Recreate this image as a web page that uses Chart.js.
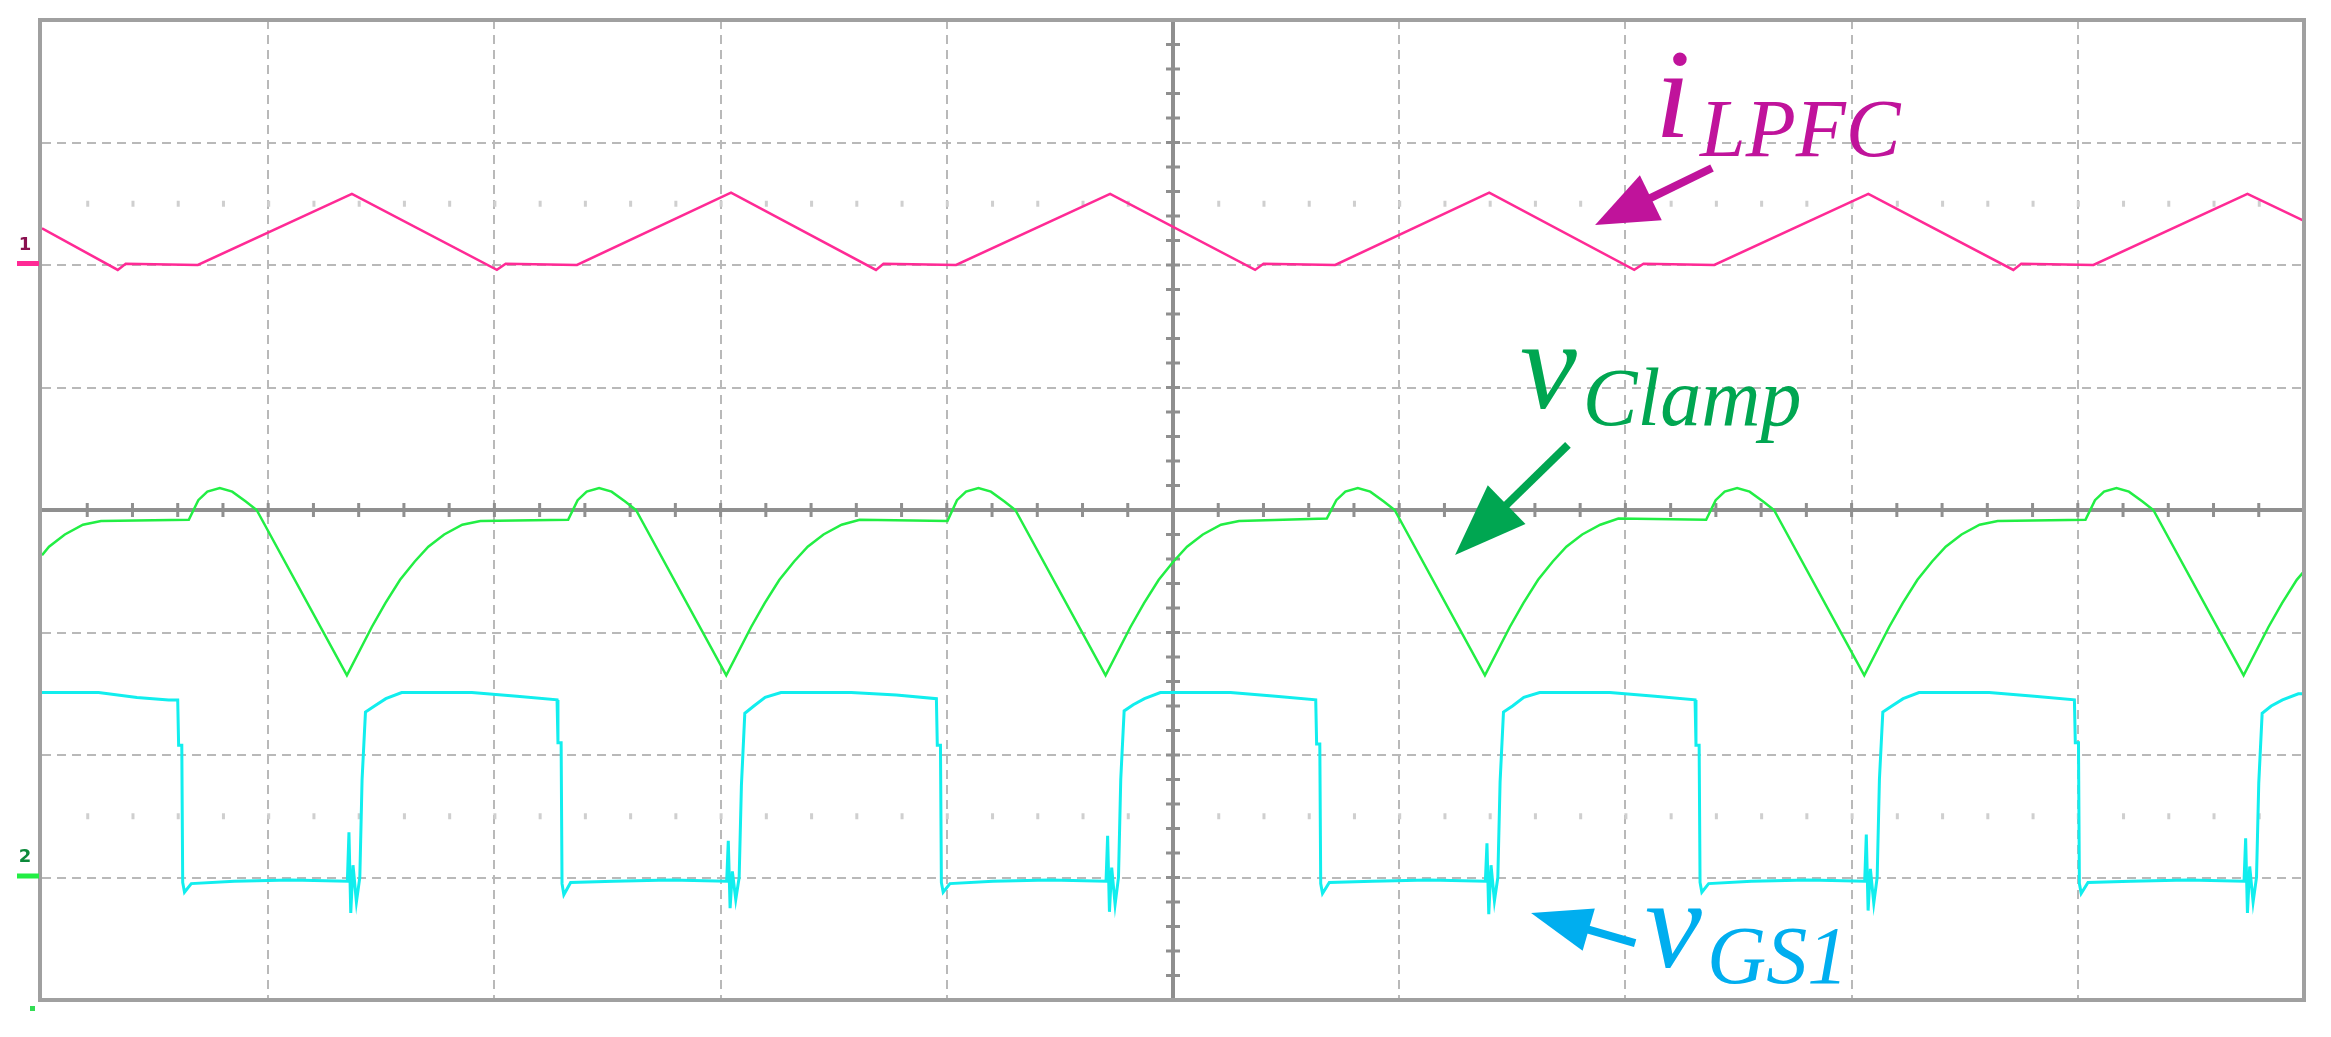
<!DOCTYPE html>
<html lang="en">
<head>
<meta charset="UTF-8" />
<title>Oscilloscope waveforms</title>
<script src="https://cdn.jsdelivr.net/npm/chart.js"></script>
<style>
  body { margin: 0; background: #ffffff; }
  .wrap { width: 2331px; height: 1037px; position: relative; }
</style>
</head>
<body>
<div class="wrap"><canvas id="scope"></canvas></div>
<script>
// time in screen divisions (0..10), amplitude in divisions (-4..4)
const iLpfcT = [0, 0.335, 0.37, 0.689, 1.370, 2.011, 2.05, 2.365, 3.046, 3.687, 3.72, 4.041, 4.722,
  5.363, 5.40, 5.717, 6.398, 7.039, 7.08, 7.393, 8.074, 8.715, 8.75, 9.069, 9.750, 10];
const iLpfcV = [2.30, 1.96, 2.01, 2.00, 2.58, 1.96, 2.01, 2.00, 2.59, 1.96, 2.01, 2.00, 2.58,
  1.96, 2.01, 2.00, 2.59, 1.96, 2.01, 2.00, 2.58, 1.96, 2.01, 2.00, 2.58, 2.36];

const vClampT = [0, 0.031, 0.101, 0.181, 0.261, 0.649, 0.691, 0.731, 0.786, 0.841, 0.901, 0.949,
  1.348, 1.458, 1.518, 1.583, 1.648, 1.708, 1.778, 1.858, 1.938, 2.326, 2.368, 2.408, 2.463, 2.518, 2.578, 2.626,
  3.025, 3.135, 3.195, 3.260, 3.325, 3.385, 3.455, 3.535, 3.615, 4.003, 4.045, 4.085, 4.140, 4.195, 4.255, 4.303,
  4.702, 4.812, 4.872, 4.937, 5.002, 5.062, 5.132, 5.212, 5.292, 5.680, 5.722, 5.762, 5.817, 5.872, 5.932, 5.980,
  6.379, 6.489, 6.549, 6.614, 6.679, 6.739, 6.809, 6.889, 6.969, 7.357, 7.399, 7.439, 7.494, 7.549, 7.609, 7.657,
  8.056, 8.166, 8.226, 8.291, 8.356, 8.416, 8.486, 8.566, 8.646, 9.034, 9.076, 9.116, 9.171, 9.226, 9.286, 9.334,
  9.733, 9.843, 9.903, 9.968, 10];
const vClampV = [-0.37, -0.30, -0.20, -0.12, -0.09, -0.08, 0.08, 0.15, 0.18, 0.15, 0.07, 0,
  -1.35, -0.955, -0.76, -0.57, -0.42, -0.30, -0.20, -0.12, -0.09, -0.08, 0.08, 0.15, 0.18, 0.15, 0.07, 0,
  -1.35, -0.955, -0.76, -0.57, -0.42, -0.30, -0.20, -0.12, -0.08, -0.09, 0.08, 0.15, 0.18, 0.15, 0.07, 0,
  -1.35, -0.955, -0.76, -0.57, -0.42, -0.30, -0.20, -0.12, -0.09, -0.07, 0.08, 0.15, 0.18, 0.15, 0.07, 0,
  -1.35, -0.955, -0.76, -0.57, -0.42, -0.30, -0.20, -0.12, -0.07, -0.08, 0.08, 0.15, 0.18, 0.15, 0.07, 0,
  -1.35, -0.955, -0.76, -0.57, -0.42, -0.30, -0.20, -0.12, -0.09, -0.08, 0.08, 0.15, 0.18, 0.15, 0.07, 0,
  -1.35, -0.955, -0.76, -0.57, -0.50];

const vGs1T = [0, 0.25, 0.42, 0.56,
  0.600, 0.604, 0.618, 0.622, 0.630, 0.660, 0.850, 1.100, 1.350, 1.357, 1.365, 1.375, 1.390, 1.405, 1.415, 1.430, 1.470, 1.520, 1.590, 1.900, 2.100,
  2.277, 2.281, 2.295, 2.299, 2.307, 2.337, 2.527, 2.777, 3.027, 3.034, 3.042, 3.052, 3.067, 3.082, 3.092, 3.107, 3.147, 3.197, 3.267, 3.577, 3.777,
  3.954, 3.958, 3.972, 3.976, 3.984, 4.014, 4.204, 4.454, 4.704, 4.711, 4.719, 4.729, 4.744, 4.759, 4.769, 4.784, 4.824, 4.874, 4.944, 5.254, 5.454,
  5.631, 5.635, 5.649, 5.653, 5.661, 5.691, 5.881, 6.131, 6.381, 6.388, 6.396, 6.406, 6.421, 6.436, 6.446, 6.461, 6.501, 6.551, 6.621, 6.931, 7.131,
  7.308, 7.312, 7.326, 7.330, 7.338, 7.368, 7.558, 7.808, 8.058, 8.065, 8.073, 8.083, 8.098, 8.113, 8.123, 8.138, 8.178, 8.228, 8.298, 8.608, 8.808,
  8.985, 8.989, 9.003, 9.007, 9.015, 9.045, 9.235, 9.485, 9.735, 9.742, 9.750, 9.760, 9.775, 9.790, 9.800, 9.815, 9.855, 9.905, 9.975, 10];
const vGs1V = [-1.49, -1.49, -1.53, -1.55,
  -1.55, -1.92, -1.92, -3.04, -3.12, -3.05, -3.03, -3.02, -3.03, -2.63, -3.29, -2.90, -3.20, -3.00, -2.20, -1.65, -1.60, -1.54, -1.49, -1.49, -1.52,
  -1.55, -1.90, -1.90, -3.05, -3.14, -3.04, -3.03, -3.02, -3.03, -2.70, -3.25, -2.95, -3.18, -3.00, -2.25, -1.66, -1.60, -1.53, -1.49, -1.49, -1.51,
  -1.54, -1.92, -1.92, -3.04, -3.12, -3.05, -3.03, -3.02, -3.03, -2.66, -3.28, -2.92, -3.22, -3.00, -2.20, -1.64, -1.59, -1.54, -1.49, -1.49, -1.52,
  -1.55, -1.91, -1.91, -3.05, -3.13, -3.04, -3.03, -3.02, -3.03, -2.72, -3.30, -2.90, -3.19, -3.00, -2.22, -1.65, -1.60, -1.53, -1.49, -1.49, -1.52,
  -1.55, -1.92, -1.92, -3.04, -3.12, -3.05, -3.03, -3.02, -3.03, -2.65, -3.27, -2.93, -3.21, -3.00, -2.20, -1.65, -1.60, -1.54, -1.49, -1.49, -1.52,
  -1.55, -1.90, -1.90, -3.05, -3.13, -3.04, -3.03, -3.02, -3.03, -2.68, -3.29, -2.91, -3.20, -3.00, -2.23, -1.66, -1.60, -1.55, -1.50, -1.50];

const channelZero = [2.0, -3.0];     // ground markers for CH1 / CH2
const dotRowLevels = [2.5, -2.5];

const toPoints = (t, v) => t.map((tt, i) => ({ x: tt, y: v[i] }));

// annotation text + arrows, placed in division coordinates
const notes = [
  { main: 'i', sub: 'LPFC', color: '#c0139b', at: [7.131, 3.045], subAt: [7.33, 2.89],
    tail: [7.383, 2.792], tip: [6.866, 2.327], head: 62, half: 25 },
  { main: 'v', sub: 'Clamp', color: '#00a651', at: [6.534, 0.833], subAt: [6.812, 0.694],
    tail: [6.746, 0.531], tip: [6.247, -0.367], head: 72, half: 27 },
  { main: 'v', sub: 'GS1', color: '#00aeef', at: [7.087, -3.731], subAt: [7.361, -3.861],
    tail: [7.043, -3.535], tip: [6.583, -3.29], head: 60, half: 22 }
];

const scopeDecor = {
  id: 'scopeDecor',
  beforeDatasetsDraw(chart) {
    const { ctx, chartArea: a, scales: { x, y } } = chart;
    ctx.save();
    // faint minor-tick rows
    ctx.fillStyle = '#cfcfcf';
    dotRowLevels.forEach(lv => {
      const py = y.getPixelForValue(lv);
      for (let i = 1; i < 50; i++) {
        ctx.fillRect(x.getPixelForValue(i * 0.2) - 1, py - 3, 3, 6);
      }
    });
    // centre cross with ticks
    const x0 = x.getPixelForValue(5), y0 = y.getPixelForValue(0);
    ctx.strokeStyle = '#8f8f8f';
    ctx.lineWidth = 4;
    ctx.beginPath();
    ctx.moveTo(a.left, y0); ctx.lineTo(a.right, y0);
    ctx.moveTo(x0, a.top); ctx.lineTo(x0, a.bottom);
    ctx.stroke();
    ctx.lineWidth = 3;
    ctx.beginPath();
    for (let i = 1; i < 50; i++) {
      const px = x.getPixelForValue(i * 0.2);
      ctx.moveTo(px, y0 - 7); ctx.lineTo(px, y0 + 7);
    }
    for (let i = 1; i < 40; i++) {
      const py = y.getPixelForValue(-4 + i * 0.2);
      ctx.moveTo(x0 - 7, py); ctx.lineTo(x0 + 7, py);
    }
    ctx.stroke();
    ctx.restore();
  },
  afterDatasetsDraw(chart) {
    const { ctx, chartArea: a, scales: { x, y } } = chart;
    ctx.save();
    ctx.strokeStyle = '#a0a0a0';
    ctx.lineWidth = 4;
    ctx.strokeRect(a.left - 2, a.top, a.right - a.left + 2, a.bottom - a.top);

    // channel ground markers
    const mk = [['#ff2a95', '#8a1050', '1'], ['#22ee44', '#0c8a3a', '2']];
    channelZero.forEach((lv, i) => {
      const py = y.getPixelForValue(lv);
      ctx.fillStyle = mk[i][0];
      ctx.fillRect(a.left - 25, py - 4, 22, 5);
      ctx.fillStyle = mk[i][1];
      ctx.font = 'bold 18px "DejaVu Sans"';
      ctx.textAlign = 'center';
      ctx.textBaseline = 'middle';
      ctx.fillText(mk[i][2], a.left - 17, py - 20);
    });
    ctx.fillStyle = '#33dd55';
    ctx.fillRect(a.left - 12, a.bottom + 6, 5, 5);

    notes.forEach(n => {
      ctx.fillStyle = n.color;
      ctx.strokeStyle = n.color;
      ctx.textAlign = 'left';
      ctx.textBaseline = 'alphabetic';
      ctx.font = 'italic 128px "Liberation Serif"';
      ctx.fillText(n.main, x.getPixelForValue(n.at[0]), y.getPixelForValue(n.at[1]));
      ctx.font = 'italic 82px "Liberation Serif"';
      ctx.fillText(n.sub, x.getPixelForValue(n.subAt[0]), y.getPixelForValue(n.subAt[1]));

      const tx = x.getPixelForValue(n.tail[0]), ty = y.getPixelForValue(n.tail[1]);
      const hx = x.getPixelForValue(n.tip[0]), hy = y.getPixelForValue(n.tip[1]);
      const ang = Math.atan2(hy - ty, hx - tx);
      const bx = hx - n.head * Math.cos(ang), by = hy - n.head * Math.sin(ang);
      ctx.lineWidth = 8;
      ctx.lineCap = 'butt';
      ctx.beginPath();
      ctx.moveTo(tx, ty); ctx.lineTo(bx + 4 * Math.cos(ang), by + 4 * Math.sin(ang));
      ctx.stroke();
      ctx.beginPath();
      ctx.moveTo(hx, hy);
      ctx.lineTo(bx - n.half * Math.sin(ang), by + n.half * Math.cos(ang));
      ctx.lineTo(bx + n.half * Math.sin(ang), by - n.half * Math.cos(ang));
      ctx.closePath();
      ctx.fill();
    });
    ctx.restore();
  }
};

const gridCol = c => (c.tick.value === 0 || c.tick.value === 10 || c.tick.value === 5 ||
  (c.scale.axis === 'y' && (c.tick.value === -4 || c.tick.value === 4))) ? 'rgba(0,0,0,0)' : '#b9b9b9';

new Chart(document.getElementById('scope'), {
  type: 'scatter',
  data: {
    datasets: [
      { label: 'iLPFC', data: toPoints(iLpfcT, iLpfcV), borderColor: '#ff2a95', borderWidth: 2.5 },
      { label: 'vClamp', data: toPoints(vClampT, vClampV), borderColor: '#22ee44', borderWidth: 2.5 },
      { label: 'vGS1', data: toPoints(vGs1T, vGs1V), borderColor: '#11eeee', borderWidth: 3 }
    ].map(d => Object.assign(d, { showLine: true, pointRadius: 0, tension: 0, fill: false }))
  },
  options: {
    responsive: true,
    maintainAspectRatio: false,
    animation: false,
    devicePixelRatio: 1,
    layout: { padding: { left: 42, right: 27, top: 20, bottom: 37 } },
    plugins: { legend: { display: false }, tooltip: { enabled: false } },
    scales: {
      x: {
        type: 'linear', min: 0, max: 10,
        ticks: { display: false, stepSize: 1 },
        grid: { color: gridCol, lineWidth: 2, drawTicks: false },
        border: { display: false, dash: [9, 6] }
      },
      y: {
        type: 'linear', min: -4, max: 4,
        ticks: { display: false, stepSize: 1 },
        grid: { color: gridCol, lineWidth: 2, drawTicks: false },
        border: { display: false, dash: [9, 6] }
      }
    }
  },
  plugins: [scopeDecor]
});
</script>
</body>
</html>
